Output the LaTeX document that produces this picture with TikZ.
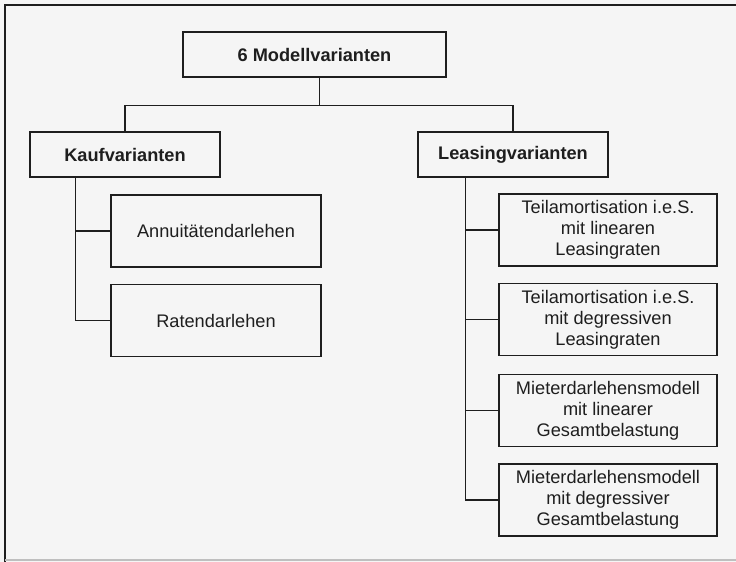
\documentclass[tikz,border=0pt]{standalone}
\usepackage{fontspec}
\setmainfont{Liberation Sans}
\usetikzlibrary{positioning}
\definecolor{paper}{HTML}{F5F5F5}
\definecolor{ink}{HTML}{1E1E1E}
\begin{document}
\begin{tikzpicture}[x=1pt,y=-1pt,
  line width=1.4pt,
  every node/.style={text=ink},
  boxbase/.style={draw=ink, rectangle, inner sep=0pt, align=center,
    font=\fontsize{18.2}{21}\selectfont},
  headbox/.style={boxbase, minimum height=45pt,
    font=\fontsize{18.2}{21}\selectfont\bfseries},
  leafbox/.style={boxbase, minimum width=210pt, minimum height=72pt},
  leasebox/.style={boxbase, minimum width=218pt, minimum height=72pt},
  link/.style={draw=ink, line width=1.4pt}
]
% page and frame
\fill[paper] (0,0) rectangle (736,562);
\useasboundingbox (0,0) rectangle (736,562);
\draw[ink, line width=1.8pt] (5,562) -- (5,5) -- (736,5);
\draw[black!25, line width=1.2pt] (5,560) -- (736,560);

% root
\node[headbox, minimum width=263pt] (root) at (314.5,54.5) {6 Modellvarianten};

% second level
\node[headbox, minimum width=190pt] (kauf) at (125,154.5) {Kaufvarianten};
\node[headbox, minimum width=190pt] (leas) at (513,154.5) {Leasingvarianten};

% purchase variants
\node[leafbox] (ann) at (216,231) {Annuitätendarlehen};
\node[leafbox] (rat) at (216,320.5) {Ratendarlehen};

% leasing variants
\node[leasebox] (t1) at (608,230) {Teilamortisation i.e.S.\\mit linearen\\Leasingraten};
\node[leasebox] (t2) at (608,319.5) {Teilamortisation i.e.S.\\mit degressiven\\Leasingraten};
\node[leasebox] (m1) at (608,410.5) {Mieterdarlehensmodell\\mit linearer\\Gesamtbelastung};
\node[leasebox] (m2) at (608,500) {Mieterdarlehensmodell\\mit degressiver\\Gesamtbelastung};

% connectors (yshift is in page direction, so negative goes down)
\coordinate (rootfoot) at ([xshift=5pt]root.south);
\coordinate (bus) at ([yshift=-28pt]rootfoot);
\draw[link] (rootfoot) -- (bus);
\draw[link] (kauf.north) |- (bus) -| (leas.north);

\coordinate (ktrunk) at ([xshift=46pt]kauf.south west);
\draw[link] (ktrunk) |- (ann.west);
\draw[link] (ktrunk) |- (rat.west);

\coordinate (ltrunk) at ([xshift=48pt]leas.south west);
\draw[link] (ltrunk) |- (t1.west);
\draw[link] (ltrunk) |- (t2.west);
\draw[link] (ltrunk) |- (m1.west);
\draw[link] (ltrunk) |- (m2.west);
\end{tikzpicture}
\end{document}
